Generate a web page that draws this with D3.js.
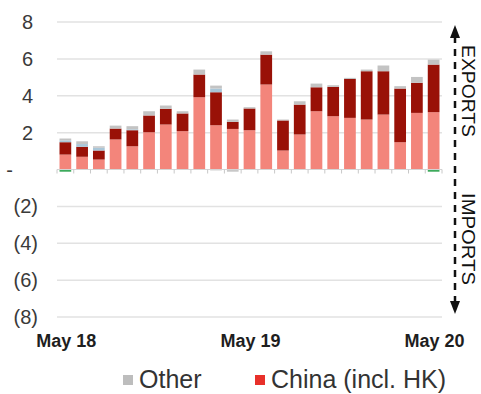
<!DOCTYPE html>
<html><head><meta charset="utf-8">
<script src="https://cdn.jsdelivr.net/npm/d3@7"></script>
<style>body{margin:0;background:#fff}svg{display:block}</style>
</head><body>
<svg id="c" width="481" height="394"></svg>
<script>
const categories = ["May 18","Jun 18","Jul 18","Aug 18","Sep 18","Oct 18","Nov 18","Dec 18","Jan-Feb 19","Mar 19","Apr 19",
  "May 19","Jun 19","Jul 19","Aug 19","Sep 19","Oct 19","Nov 19","Dec 19","Jan-Feb 20","Mar 20","Apr 20","May 20"];
const lightRed = [0.81,0.69,0.54,1.63,1.26,2.02,2.44,2.08,3.92,2.40,2.20,2.13,4.61,1.03,1.90,3.16,2.89,2.80,2.71,2.98,1.48,3.07,3.11];
const darkRed  = [0.67,0.54,0.49,0.59,0.87,0.91,0.85,0.96,1.23,1.79,0.38,1.18,1.62,1.63,1.62,1.30,1.59,2.11,2.62,2.35,2.91,1.63,2.58];
const blueSeg  = [0.10,0.15,0.15,0.00,0.05,0.00,0.00,0.00,0.00,0.20,0.00,0.00,0.00,0.00,0.00,0.00,0.00,0.00,0.00,0.00,0.00,0.00,0.00];
const other    = [0.10,0.15,0.08,0.16,0.17,0.23,0.18,0.12,0.27,0.16,0.13,0.07,0.18,0.05,0.18,0.20,0.09,0.06,0.09,0.31,0.13,0.32,0.27];
const otherNeg = [0,0,0,0,0,0,0,0,0,-0.05,-0.12,0,0,0,0,0,0,0,0,0,0,0,0];
const greenSeg = [-0.12,0,0,0,0,0,0,0,0,0,0,0,0,0,0,0,0,0,0,0,0,0,-0.12];
const yTicks = [-8,-6,-4,-2,0,2,4,6,8];
const xTickLabels = ["May 18","May 19","May 20"];
const legendItems = [{name:"Other", color:"#BDBDBD"},{name:"China (incl. HK)", color:"#E8302A"}];

const colors = {lightRed:"#F3857B", darkRed:"#991107", blueSeg:"#A9C6D8", other:"#C3C3C3", otherNeg:"#C8C8C8", greenSeg:"#3DAA5C"};
const keys = ["lightRed","darkRed","blueSeg","other","greenSeg","otherNeg"];
const series = {lightRed, darkRed, blueSeg, other, greenSeg, otherNeg};
const rows = categories.map((c,i)=>{const r={cat:c}; keys.forEach(k=>r[k]=series[k][i]); return r;});

const svg = d3.select("#c");
const x = d3.scaleBand().domain(categories).range([57,442]).paddingInner(0.3).paddingOuter(0.15);
const y = d3.scaleLinear().domain([-8,8]).range([317,22]);

// gridlines
svg.append("g").selectAll("line").data(yTicks.filter(d=>d!==0)).join("line")
  .attr("x1",57).attr("x2",442).attr("y1",d=>y(d)).attr("y2",d=>y(d))
  .attr("stroke","#E2E2E2").attr("stroke-width",1.5);

// y labels
svg.append("g").selectAll("text").data(yTicks).join("text")
  .attr("x",d=> d>0 ? 33 : d<0 ? 38 : 13)
  .attr("y",d=>y(d)).attr("dy","0.35em")
  .attr("text-anchor","end")
  .attr("font-family","Liberation Sans, Arial, sans-serif").attr("font-size",20)
  .attr("fill","#3a3a3a")
  .text(d=> d>0 ? String(d) : d<0 ? "("+(-d)+")" : "-");

// bars
const stack = d3.stack().keys(keys).offset(d3.stackOffsetDiverging);
const stacked = stack(rows);
svg.append("g").selectAll("g").data(stacked).join("g")
  .attr("fill",d=>colors[d.key])
  .selectAll("rect").data(d=>d).join("rect")
  .attr("x",d=>x(d.data.cat)).attr("width",x.bandwidth())
  .attr("y",d=>y(Math.max(d[0],d[1])))
  .attr("height",d=>Math.abs(y(d[0])-y(d[1])));

// zero axis
const step = x.step();
svg.append("line").attr("x1",57).attr("x2",442).attr("y1",y(0)).attr("y2",y(0))
  .attr("stroke","#D4D4D4").attr("stroke-width",1.2);
const tickPos = categories.map(c=>x(c)-step*x.paddingInner()/2).concat([x(categories[categories.length-1])+x.bandwidth()+step*x.paddingInner()/2]);
svg.append("g").selectAll("line").data(tickPos).join("line")
  .attr("x1",d=>d).attr("x2",d=>d).attr("y1",y(0)).attr("y2",y(0)+4)
  .attr("stroke","#C8C8C8").attr("stroke-width",1);

// x labels
svg.append("g").selectAll("text").data(xTickLabels).join("text")
  .attr("x",d=>x(d)+x.bandwidth()/2+1).attr("y",347)
  .attr("text-anchor","middle")
  .attr("font-family","Liberation Sans, Arial, sans-serif").attr("font-size",18).attr("font-weight","bold")
  .attr("fill","#1e1e1e").text(d=>d);

// right annotation
const ax = 455;
svg.append("line").attr("x1",ax).attr("x2",ax).attr("y1",36).attr("y2",304)
  .attr("stroke","#111").attr("stroke-width",2.5).attr("stroke-dasharray","7,6");
svg.append("path").attr("d",`M${ax},25 L${ax-5},38 L${ax+5},38 Z`).attr("fill","#111");
svg.append("path").attr("d",`M${ax},314 L${ax-5},301 L${ax+5},301 Z`).attr("fill","#111");
[["EXPORTS",91],["IMPORTS",239]].forEach(([t,cy])=>{
  svg.append("text").attr("transform",`translate(${ax+7},${cy}) rotate(90)`)
    .attr("text-anchor","middle")
    .attr("font-family","Liberation Sans, Arial, sans-serif").attr("font-size",18)
    .attr("textLength",92).attr("lengthAdjust","spacingAndGlyphs")
    .attr("fill","#111").text(t);
});

// legend
const lg = svg.append("g");
const lx = [123, 255];
legendItems.forEach((it,i)=>{
  lg.append("rect").attr("x",lx[i]).attr("y",375).attr("width",10).attr("height",10).attr("fill",it.color);
  lg.append("text").attr("x",lx[i]+16).attr("y",388)
    .attr("font-family","Liberation Sans, Arial, sans-serif").attr("font-size",25)
    .attr("fill","#333").text(it.name);
});
</script>
</body></html>
